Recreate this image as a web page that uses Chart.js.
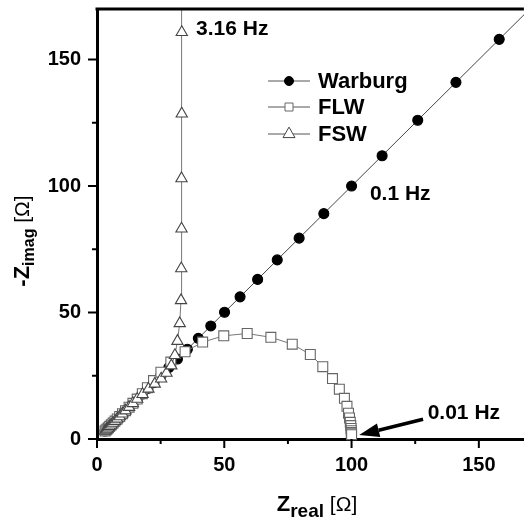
<!DOCTYPE html>
<html>
<head>
<meta charset="utf-8">
<script src="https://cdn.jsdelivr.net/npm/chart.js@4/dist/chart.umd.min.js"></script>
<style>
  html, body { margin: 0; padding: 0; background: #fff; overflow: hidden; }
  canvas { display: block; }
</style>
</head>
<body>
<canvas id="chart" width="532" height="522"></canvas>
<script>
// ===== Data =====
const warburgRe = [3.16, 3.55, 3.98, 4.47, 5.01, 5.62, 6.31, 7.08, 7.94, 8.91, 10.0, 11.2, 12.6, 14.1, 15.8,
                   17.8, 20.0, 22.4, 25.1, 28.2, 31.6, 35.5, 39.8, 44.7, 50.1, 56.2, 63.1, 70.8, 79.4, 89.1,
                   100, 112, 126, 141, 158, 178];
const warburgIm = [3.16, 3.55, 3.98, 4.47, 5.01, 5.62, 6.31, 7.08, 7.94, 8.91, 10.0, 11.2, 12.6, 14.1, 15.8,
                   17.8, 20.0, 22.4, 25.1, 28.2, 31.6, 35.5, 39.8, 44.7, 50.1, 56.2, 63.1, 70.8, 79.4, 89.1,
                   100, 112, 126, 141, 158, 178];

const flwRe = [3.16, 3.55, 3.98, 4.47, 5.01, 5.62, 6.31, 7.08, 7.94, 8.91, 10.0, 11.2, 12.6, 14.1, 15.8,
               17.8, 19.8, 22.2, 25.1, 29.0, 34.6, 41.5, 49.8, 59.0, 68.3, 76.7, 83.8, 88.7, 92.5, 95.2,
               97.2, 98.2, 98.8, 99.2, 99.5, 99.7, 99.8, 99.9, 99.9, 100, 100];
const flwIm = [3.16, 3.55, 3.98, 4.47, 5.01, 5.62, 6.31, 7.08, 7.94, 8.91, 10.0, 11.2, 12.6, 14.1, 15.8,
               17.9, 20.3, 23.1, 26.4, 30.4, 34.5, 38.3, 40.8, 41.7, 40.2, 37.5, 33.4, 28.6, 23.9, 19.7,
               16.1, 12.9, 10.2, 8.3, 6.6, 5.3, 4.2, 3.3, 2.6, 2.1, 1.7];

const fswRe = [3.16, 3.55, 3.98, 4.47, 5.01, 5.62, 6.31, 7.08, 7.94, 8.91, 10.0, 11.2, 12.6, 14.1, 15.8,
               17.9, 20.2, 22.7, 25.2, 27.3, 29.2, 30.6, 31.6, 32.5, 33.0, 33.1, 33.2, 33.2, 33.3, 33.3, 33.3];
const fswIm = [3.16, 3.55, 3.98, 4.47, 5.01, 5.62, 6.31, 7.08, 7.94, 8.91, 10.0, 11.2, 12.6, 14.1, 15.8,
               17.7, 19.8, 21.8, 23.8, 26.1, 29.0, 33.1, 38.7, 45.7, 54.8, 67.4, 83.1, 103.0, 128.6, 160.8, 202];

const seriesNames = ['Warburg', 'FLW', 'FSW'];
const xMajorTicks = [0, 50, 100, 150];
const xMinorTicks = [25, 75, 125];
const yMajorTicks = [0, 50, 100, 150];
const yMinorTicks = [25, 75, 125];

// frequency labels: [text, x, y] in data units (left edge / vertical middle)
const freqLabels = [
  ['3.16 Hz', 38.9, 161.9],
  ['0.1 Hz', 107.2, 96.6],
  ['0.01 Hz', 129.9, 10.3],
];
const arrowFrom = [128.1, 7.8];
const arrowTo   = [103.0, 1.6];

// ===== Styling =====
const FONT = '"Liberation Sans", Arial, sans-serif';
const STYLES = [
  { pointStyle: 'circle',   radius: 5,   fill: '#000', stroke: '#000', line: '#444' },
  { pointStyle: 'rect',     radius: 7,   fill: '#fff', stroke: '#666', line: '#777' },
  { pointStyle: 'triangle', radius: 6.5, fill: '#fff', stroke: '#444', line: '#777' },
];

function toPoints(re, im) {
  return re.map((x, i) => ({ x, y: im[i] }));
}

const allData = [toPoints(warburgRe, warburgIm), toPoints(flwRe, flwIm), toPoints(fswRe, fswIm)];

const datasets = allData.map((pts, i) => ({
  label: seriesNames[i],
  data: pts,
  showLine: true,
  borderColor: STYLES[i].line,
  borderWidth: 1,
  pointStyle: STYLES[i].pointStyle,
  pointRadius: STYLES[i].radius,
  pointBackgroundColor: STYLES[i].fill,
  pointBorderColor: STYLES[i].stroke,
  pointBorderWidth: 1.1,
  order: 3 - i,             // Warburg at the bottom, FSW on top
  clip: { left: 6, top: 0, right: 0, bottom: 8 },
}));

// ===== Extra drawing: frame, ticks, titles, legend, labels =====
function drawMarker(ctx, style, x, y, r, fill, stroke) {
  ctx.beginPath();
  if (style === 'circle') {
    ctx.arc(x, y, r, 0, Math.PI * 2);
  } else if (style === 'rect') {
    ctx.rect(x - r, y - r, 2 * r, 2 * r);
  } else {
    ctx.moveTo(x, y - r * 1.15);
    ctx.lineTo(x + r, y + r * 0.6);
    ctx.lineTo(x - r, y + r * 0.6);
    ctx.closePath();
  }
  ctx.fillStyle = fill;
  ctx.fill();
  ctx.strokeStyle = stroke;
  ctx.lineWidth = 1;
  ctx.stroke();
}

function drawRich(ctx, parts, x, y, align) {
  // parts: [text, font, dy]
  let total = 0;
  parts.forEach(p => { ctx.font = p[1]; total += ctx.measureText(p[0]).width; });
  let cx = align === 'center' ? x - total / 2 : x;
  ctx.textAlign = 'left';
  ctx.textBaseline = 'alphabetic';
  parts.forEach(p => {
    ctx.font = p[1];
    ctx.fillText(p[0], cx, y + p[2]);
    cx += ctx.measureText(p[0]).width;
  });
}

const decorPlugin = {
  id: 'decor',
  afterDraw(chart) {
    const ctx = chart.ctx;
    const area = chart.chartArea;
    const xs = chart.scales.x, ys = chart.scales.y;
    ctx.save();
    ctx.fillStyle = '#000';
    ctx.strokeStyle = '#000';

    // top frame line
    ctx.lineWidth = 3;
    ctx.beginPath();
    ctx.moveTo(area.left - 1.5, area.top);
    ctx.lineTo(area.right, area.top);
    ctx.stroke();

    // tick marks (outward)
    ctx.lineWidth = 2;
    ctx.beginPath();
    xMajorTicks.forEach(v => { const px = xs.getPixelForValue(v); ctx.moveTo(px, area.bottom); ctx.lineTo(px, area.bottom + 9); });
    xMinorTicks.forEach(v => { const px = xs.getPixelForValue(v); ctx.moveTo(px, area.bottom); ctx.lineTo(px, area.bottom + 5); });
    yMajorTicks.forEach(v => { const py = ys.getPixelForValue(v); ctx.moveTo(area.left, py); ctx.lineTo(area.left - 9, py); });
    yMinorTicks.forEach(v => { const py = ys.getPixelForValue(v); ctx.moveTo(area.left, py); ctx.lineTo(area.left - 5, py); });
    ctx.stroke();

    // axis titles
    drawRich(ctx, [
      ['Z', 'bold 22px ' + FONT, 0],
      ['real', 'bold 19px ' + FONT, 6],
      [' [Ω]', '21px ' + FONT, 0],
    ], 317, 511, 'center');

    ctx.save();
    ctx.translate(29, 241);
    ctx.rotate(-Math.PI / 2);
    drawRich(ctx, [
      ['-Z', 'bold 22px ' + FONT, 0],
      ['imag', 'bold 16px ' + FONT, 5],
      [' [Ω]', '21px ' + FONT, 0],
    ], 0, 0, 'center');
    ctx.restore();

    // legend
    const rows = [81, 107, 134];
    rows.forEach((ry, i) => {
      ctx.strokeStyle = '#555';
      ctx.lineWidth = 1;
      ctx.beginPath();
      ctx.moveTo(268, ry);
      ctx.lineTo(310, ry);
      ctx.stroke();
      const r = i === 0 ? 4.5 : i === 1 ? 4 : 6;
      drawMarker(ctx, STYLES[i].pointStyle, 289, ry, r, STYLES[i].fill, STYLES[i].stroke);
      ctx.fillStyle = '#000';
      ctx.font = 'bold 22px ' + FONT;
      ctx.textAlign = 'left';
      ctx.textBaseline = 'middle';
      ctx.fillText(seriesNames[i], 318, ry + 1);
    });

    // frequency labels
    ctx.font = 'bold 21px ' + FONT;
    ctx.textBaseline = 'middle';
    freqLabels.forEach(([t, x, y]) => {
      ctx.fillText(t, xs.getPixelForValue(x), ys.getPixelForValue(y));
    });

    // arrow to 0.01 Hz point
    const x1 = xs.getPixelForValue(arrowFrom[0]), y1 = ys.getPixelForValue(arrowFrom[1]);
    const x2 = xs.getPixelForValue(arrowTo[0]),   y2 = ys.getPixelForValue(arrowTo[1]);
    const ang = Math.atan2(y2 - y1, x2 - x1);
    const headLen = 20, headW = 7;
    const bx = x2 - headLen * Math.cos(ang), by = y2 - headLen * Math.sin(ang);
    ctx.strokeStyle = '#000';
    ctx.lineWidth = 3.5;
    ctx.beginPath();
    ctx.moveTo(x1, y1);
    ctx.lineTo(bx, by);
    ctx.stroke();
    ctx.beginPath();
    ctx.moveTo(x2, y2);
    ctx.lineTo(bx + headW * Math.sin(ang), by - headW * Math.cos(ang));
    ctx.lineTo(bx - headW * Math.sin(ang), by + headW * Math.cos(ang));
    ctx.closePath();
    ctx.fillStyle = '#000';
    ctx.fill();

    ctx.restore();
  }
};

// ===== Chart =====
new Chart(document.getElementById('chart'), {
  type: 'scatter',
  data: { datasets },
  options: {
    responsive: false,
    animation: false,
    layout: { padding: { top: 9, right: 0, bottom: 0, left: 0 } },
    plugins: {
      legend: { display: false },
      tooltip: { enabled: false },
    },
    scales: {
      x: {
        type: 'linear',
        min: 0,
        max: 167.7,
        grid: { display: false, drawTicks: false },
        border: { display: true, width: 3, color: '#000' },
        ticks: {
          stepSize: 50,
          includeBounds: false,
          autoSkip: false,
          maxRotation: 0,
          padding: 14,
          color: '#000',
          font: { family: FONT, size: 20, weight: 'bold' },
        },
        afterFit(s) { s.height = 83; s.paddingLeft = 0; s.paddingRight = 0; },
      },
      y: {
        type: 'linear',
        min: 0,
        max: 170,
        grid: { display: false, drawTicks: false },
        border: { display: true, width: 3, color: '#000' },
        ticks: {
          stepSize: 50,
          includeBounds: false,
          autoSkip: false,
          padding: 16,
          color: '#000',
          font: { family: FONT, size: 20, weight: 'bold' },
        },
        afterFit(s) { s.width = 97; s.paddingTop = 0; s.paddingBottom = 0; },
      },
    },
  },
  plugins: [decorPlugin],
});
</script>
</body>
</html>
